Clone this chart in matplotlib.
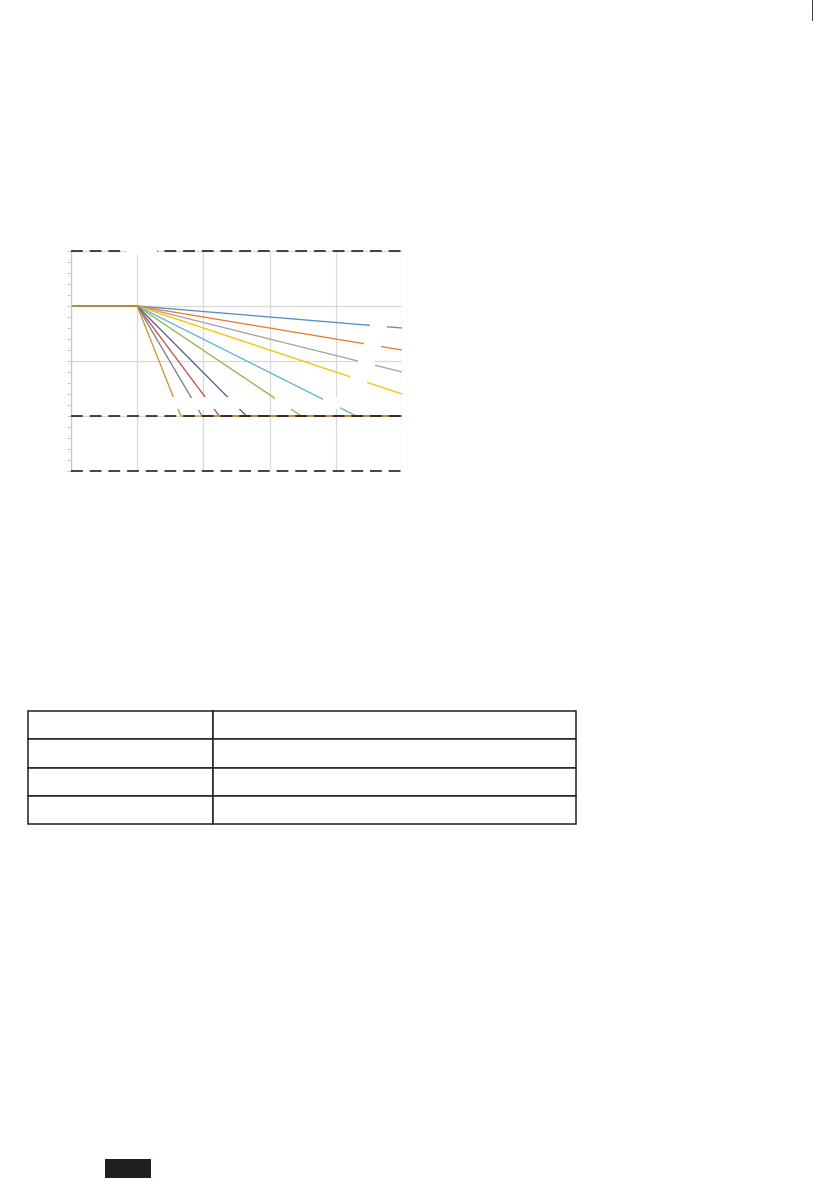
import matplotlib
matplotlib.use('Agg')
import matplotlib.pyplot as plt
from matplotlib.patches import Rectangle
from matplotlib.lines import Line2D
import numpy as np

W, H = 839, 1191

# Derating curves: flat up to the knee, straight drop, then the floor level
curve_x = [
    [0, 10, 50],
    [0, 10, 50],
    [0, 10, 50],
    [0, 10, 50],
    [0, 10, 43.1, 50],
    [0, 10, 34.8, 50],
    [0, 10, 26.5, 50],
    [0, 10, 22.4, 50],
    [0, 10, 19.8, 50],
    [0, 10, 16.6, 50],
]
curve_y = [
    [75, 75, 65],
    [75, 75, 55],
    [75, 75, 45],
    [75, 75, 35],
    [75, 75, 25, 25],
    [75, 75, 25, 25],
    [75, 75, 25, 25],
    [75, 75, 25, 25],
    [75, 75, 25, 25],
    [75, 75, 25, 25],
]
curve_colors = ['#5b8cc4', '#ed7d31', '#a5a5a5', '#ffc000', '#62b4d9',
                '#8fb751', '#4a6490', '#c0504d', '#7f7f7f', '#c49b2e']

# limit lines (dashed)
limit_levels = [0, 25, 100]

# positions of the (blank) data-label boxes that interrupt the curves
label_x = [46.5, 45.5, 44.6, 43.5, 39.4, 32.1, 24.7, 21.1, 18.9, 15.9]
label_y = [65.9, 57.3, 49.0, 41.5, 30.9, 30.9, 30.9, 30.9, 30.3, 30.9]
limit_label_x = [10.7]
limit_label_y = [100]

fig = plt.figure(figsize=(W / 100, H / 100), dpi=100)
fig.patch.set_facecolor('white')

ax = fig.add_axes([71 / W, 1 - 471 / H, 331 / W, 220 / H])
ax.set_xlim(0, 50)
ax.set_ylim(0, 100)

for xs, ys, c in zip(curve_x, curve_y, curve_colors):
    ax.plot(xs, ys, color=c, lw=0.95, zorder=2, solid_capstyle='butt')

for lv in limit_levels:
    ax.axhline(lv, color='#1a1a1a', lw=1.15, dashes=(7.4, 4.3),
               zorder=4, clip_on=False)

# white label boxes (text removed in the reference)
bw, bh = 17 / 331 * 50, 12 / 220 * 100
for lx, ly in zip(label_x, label_y):
    ax.add_patch(Rectangle((lx - bw / 2, ly - bh / 2), bw, bh,
                           facecolor='white', edgecolor='none', zorder=5))
tw, th = 30 / 331 * 50, 8 / 220 * 100
for lx, ly in zip(limit_label_x, limit_label_y):
    ax.add_patch(Rectangle((lx - tw / 2, ly - th / 2), tw, th,
                           facecolor='white', edgecolor='none', zorder=5,
                           clip_on=False))

# grid and axis styling
ax.set_xticks(np.arange(0, 51, 10))
ax.set_yticks(np.arange(0, 101, 25))
ax.set_yticks(np.arange(0, 101, 5), minor=True)
ax.set_xticklabels([])
ax.set_yticklabels([])
ax.tick_params(axis='x', length=0)
ax.tick_params(axis='y', which='both', length=3, width=0.7, color='#c8c8c8',
               direction='out')
ax.grid(True, which='major', color='#d9d9d9', lw=0.9, zorder=0)
ax.set_axisbelow(True)
for s in ['top', 'right', 'bottom']:
    ax.spines[s].set_visible(False)
ax.spines['left'].set_color('#c8c8c8')
ax.spines['left'].set_linewidth(0.9)

# empty table below the chart
tax = fig.add_axes([28 / W, 1 - 824 / H, 548 / W, 113 / H])
tax.axis('off')
tbl = tax.table(cellText=[['', '']] * 4, colWidths=[184.7 / 548, 363.3 / 548],
                bbox=[0, 0, 1, 1])
for cell in tbl.get_celld().values():
    cell.set_edgecolor('#231f20')
    cell.set_linewidth(1.1)

# page number tab and crop mark
fig.add_artist(Rectangle((105 / W, 1 - 1178 / H), 46 / W, 19 / H,
                         transform=fig.transFigure, facecolor='#231f20',
                         edgecolor='none'))
fig.add_artist(Line2D([812 / W, 812 / W], [1, 1 - 20 / H],
                      transform=fig.transFigure, color='#231f20', lw=0.6))

fig.savefig('out.png', dpi=100, facecolor='white')
